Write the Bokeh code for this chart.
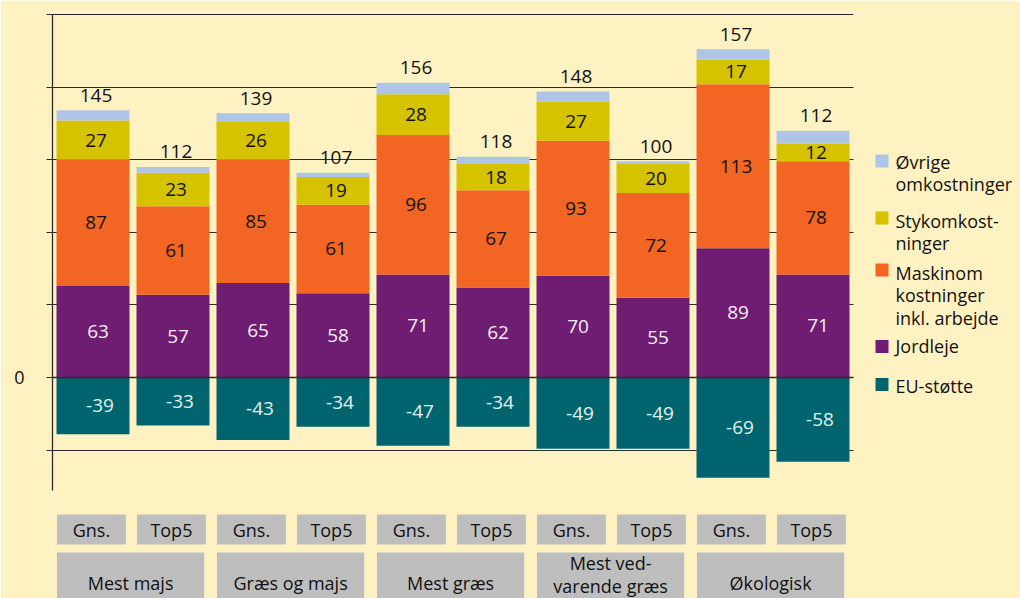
import numpy as np
from bokeh.plotting import figure
from bokeh.models import Range1d, ColumnDataSource, FixedTicker, Grid
from bokeh.core.properties import value
from bokeh.embed import file_html
from bokeh.resources import INLINE

# ---------------- data ----------------
groups = ["Mest majs", "Græs og majs", "Mest græs", "Mest ved-\nvarende græs", "Økologisk"]
subs = ["Gns.", "Top5"]
jordleje = [63, 57, 65, 58, 71, 62, 70, 55, 89, 71]
maskin = [87, 61, 85, 61, 96, 67, 93, 72, 113, 78]
styk = [27, 23, 26, 19, 28, 18, 27, 20, 17, 12]
ovrige = [7, 4, 6, 3, 8, 5, 7, 2, 7, 9]
eu = [-39, -33, -43, -34, -47, -34, -49, -49, -69, -58]
totals = [145, 112, 139, 107, 156, 118, 148, 100, 157, 112]
legend_labels = ["Øvrige\nomkostninger", "Stykomkost-\nninger",
                 "Maskinom\nkostninger\ninkl. arbejde", "Jordleje", "EU-støtte"]
y_ticks = [-50, 0, 50, 100, 150, 200, 250]

# ---------------- style ----------------
BG = "#FFF2C2"
C_OVR = "#AFC5E8"
C_STY = "#D6C300"
C_MAS = "#F26522"
C_JOR = "#6E1D72"
C_EU = "#00646E"
BOX = "#BEBEBE"
FONT = value("Open Sans")
LINE = "#2b2b2b"

# layout helpers (pixel -> data coordinate), used for layout only
PX_UNIT_X = 80.0
X0_PX = 92.5
ZERO_PY = 377.0
PX_PER_VAL = 363.0 / 250.0


def px_x(px):
    return (px - X0_PX) / PX_UNIT_X


def px_y(py):
    return (ZERO_PY - py) / PX_PER_VAL


W, H = 1020, 598
MB_L, MB_T = 52, 12
x_range = Range1d(px_x(MB_L), px_x(W))
y_range = Range1d(px_y(H), px_y(MB_T))

p = figure(width=W, height=H, x_range=x_range, y_range=y_range,
           output_backend="svg", toolbar_location=None, x_axis_location=None,
           min_border_left=MB_L, min_border_right=0, min_border_top=MB_T,
           min_border_bottom=0, background_fill_color=BG, border_fill_color=BG,
           outline_line_color=None)

n = len(totals)
x = np.arange(n, dtype=float)
grid_right = px_x(853)

# y axis
yax = p.yaxis[0]
yax.ticker = FixedTicker(ticks=y_ticks)
yax.bounds = (px_y(490), 250)
yax.major_label_overrides = {t: ("0" if t == 0 else "") for t in y_ticks}
yax.major_tick_out = 6
yax.major_tick_in = 0
yax.minor_tick_line_color = None
yax.axis_line_color = LINE
yax.axis_line_width = 1.3
yax.major_tick_line_color = LINE
yax.major_label_standoff = 22
yax.major_label_text_font = "Open Sans"
yax.major_label_text_font_size = "18px"
yax.major_label_text_color = "#111111"

# grid
p.xgrid.visible = False
p.ygrid.ticker = FixedTicker(ticks=[t for t in y_ticks if t != 0])
p.ygrid.cross_bounds = (x_range.start, grid_right)
p.ygrid.grid_line_color = LINE
p.ygrid.grid_line_width = 1.2

zero = Grid(dimension=1, ticker=FixedTicker(ticks=[0]),
            cross_bounds=(x_range.start, grid_right),
            grid_line_color=LINE, grid_line_width=1.5, level="overlay")
p.add_layout(zero)

# bars
src = ColumnDataSource(dict(x=x, jordleje=jordleje, maskin=maskin, styk=styk,
                            ovrige=ovrige, eu=eu))
BW = 73 / 80
p.vbar_stack(["jordleje", "maskin", "styk", "ovrige"], x="x", width=BW,
             color=[C_JOR, C_MAS, C_STY, C_OVR], line_color=None, source=src)
p.vbar(x="x", top=0, bottom="eu", width=BW, color=C_EU, line_color=None, source=src)

# segment labels
j = np.array(jordleje, float)
m = np.array(maskin, float)
s = np.array(styk, float)
o = np.array(ovrige, float)
e = np.array(eu, float)
stack_top = j + m + s + o


def labels(xs, ys, txt, color, xoff):
    p.text(x=list(xs), y=list(ys), text=[str(t) for t in txt], text_font=FONT,
           text_font_size="19px", text_color=color, text_align="center",
           text_baseline="middle", x_offset=xoff)


labels(x, j / 2, jordleje, "#F6EEF6", 5)
labels(x, j + m / 2, maskin, "#111111", 3)
labels(x, j + m + s / 2, styk, "#111111", 3)
labels(x, e / 2, eu, "#E3F1F1", 7)
p.text(x=list(x), y=list(stack_top), text=[str(t) for t in totals], text_font=FONT,
       text_font_size="19px", text_color="#111111", text_align="center",
       text_baseline="middle", x_offset=3, y_offset=-15)

# category boxes
sub_labels = subs * len(groups)
row1_top, row1_bot = px_y(514), px_y(544)
p.rect(x=list(x - 0.02), y=(row1_top + row1_bot) / 2, width=0.86,
       height=row1_top - row1_bot, color=BOX, line_color=None)
p.text(x=list(x - 0.02), y=px_y(529), text=sub_labels, text_font=FONT,
       text_font_size="18px", text_color="#111111", text_align="center",
       text_baseline="middle")

gx = np.arange(len(groups)) * 2 + 0.5 - 0.03
row2_top, row2_bot = px_y(552), px_y(640)
p.rect(x=list(gx), y=(row2_top + row2_bot) / 2, width=1.84,
       height=row2_top - row2_bot, color=BOX, line_color=None)
gy = [px_y(582 - 8 * (g.count("\n"))) for g in groups]
p.text(x=list(gx), y=gy, text=groups, text_font=FONT, text_font_size="18px",
       text_color="#111111", text_align="center", text_baseline="middle",
       text_line_height=0.98)

# legend (manual)
leg_colors = [C_OVR, C_STY, C_MAS, C_JOR, C_EU]
leg_sq_py = [160.5, 217.5, 269.5, 346, 384]
leg_txt_py = [172.5, 231.5, 295, 345, 385]
p.rect(x=px_x(881.5), y=[px_y(v) for v in leg_sq_py], width=13, height=13,
       width_units="screen", height_units="screen", color=leg_colors, line_color=None)
p.text(x=px_x(895), y=[px_y(v) for v in leg_txt_py], text=legend_labels,
       text_font=FONT, text_font_size="18px", text_color="#111111",
       text_align="left", text_baseline="middle", text_line_height=0.94)

open("out.html", "w").write(file_html(p, INLINE))
